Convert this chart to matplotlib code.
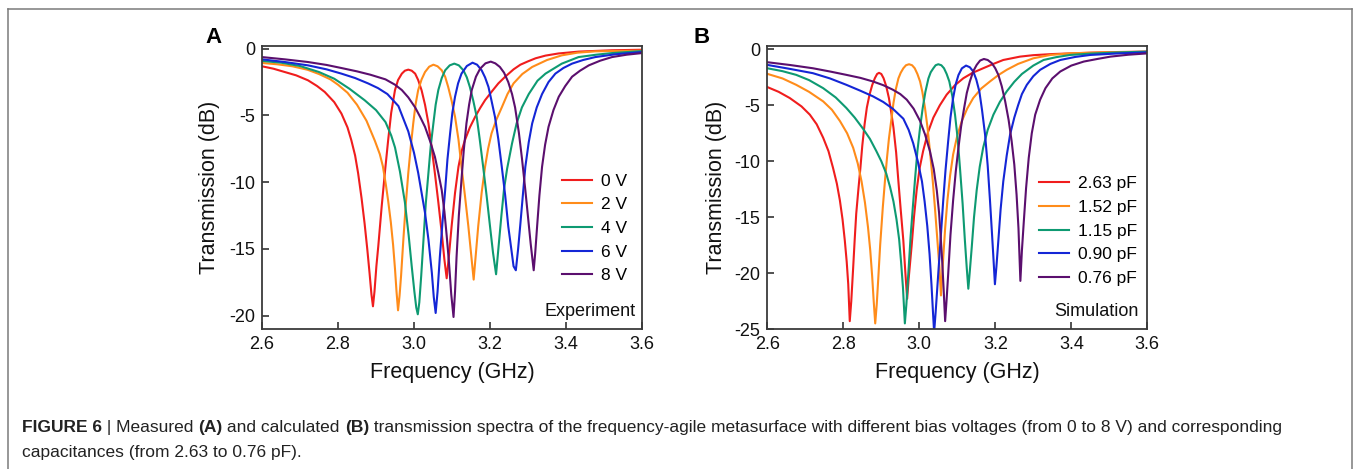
import matplotlib
matplotlib.use("Agg")
import matplotlib.pyplot as plt
from matplotlib.lines import Line2D
from matplotlib.ticker import FormatStrFormatter

plt.rcParams['font.family'] = ['Liberation Sans', 'DejaVu Sans']
plt.rcParams['axes.unicode_minus'] = False

# ---- panel A: measured, bias voltage ----
a_labels = ["0 V", "2 V", "4 V", "6 V", "8 V"]

a0_f = [2.600, 2.630, 2.660, 2.690, 2.721, 2.745, 2.765, 2.790, 2.809, 2.825, 2.835, 2.845, 2.853,
        2.862, 2.870, 2.877, 2.883, 2.888, 2.892, 2.896, 2.901, 2.906, 2.915, 2.924, 2.932, 2.940,
        2.950, 2.958, 2.968, 2.976, 2.985, 2.994, 3.003, 3.011, 3.020, 3.029, 3.038, 3.046, 3.055,
        3.064, 3.073, 3.080, 3.086, 3.092, 3.099, 3.108, 3.117, 3.125, 3.134, 3.147, 3.161, 3.174,
        3.187, 3.205, 3.222, 3.240, 3.262, 3.280, 3.300, 3.320, 3.346, 3.380, 3.433, 3.520, 3.600]
a0_db = [-1.32, -1.5, -1.75, -2.0, -2.37, -2.8, -3.24, -4.0, -4.86, -5.9, -6.85, -8.0, -9.34,
         -11.2, -13.1, -15.0, -16.8, -18.4, -19.3, -18.2, -16.3, -14.8, -11.8, -9.1, -6.85, -4.8,
         -3.1, -2.35, -1.87, -1.65, -1.57, -1.65, -1.87, -2.35, -3.12, -4.2, -5.6, -7.3, -9.34,
         -11.5, -13.8, -15.8, -17.2, -15.5, -13.3, -10.8, -8.85, -7.7, -6.85, -5.9, -5.1, -4.45,
         -3.86, -3.2, -2.6, -2.1, -1.55, -1.2, -0.95, -0.72, -0.52, -0.36, -0.22, -0.12, -0.08]

a2_f = [2.600, 2.640, 2.680, 2.720, 2.750, 2.780, 2.800, 2.825, 2.850, 2.875, 2.897, 2.910, 2.918,
        2.926, 2.932, 2.939, 2.945, 2.950, 2.954, 2.958, 2.962, 2.966, 2.972, 2.978, 2.985, 2.992,
        2.998, 3.004, 3.011, 3.020, 3.029, 3.040, 3.051, 3.062, 3.073, 3.082, 3.090, 3.099, 3.108,
        3.117, 3.125, 3.134, 3.143, 3.150, 3.157, 3.163, 3.169, 3.178, 3.187, 3.195, 3.204, 3.217,
        3.231, 3.246, 3.262, 3.285, 3.311, 3.350, 3.389, 3.430, 3.477, 3.540, 3.600]
a2_db = [-1.07, -1.17, -1.32, -1.58, -1.9, -2.3, -2.7, -3.3, -4.2, -5.4, -6.9, -7.9, -8.8,
         -10.2, -11.4, -13.0, -14.7, -16.5, -18.2, -19.6, -18.5, -17.0, -14.3, -11.8, -9.3, -7.2,
         -5.6, -4.2, -3.1, -2.3, -1.75, -1.35, -1.2, -1.32, -1.62, -2.1, -2.87, -3.9, -5.1,
         -6.8, -8.85, -11.0, -13.3, -15.3, -17.3, -15.3, -13.3, -10.8, -8.85, -7.5, -6.35, -5.3,
         -4.4, -3.4, -2.6, -1.9, -1.37, -0.85, -0.5, -0.3, -0.2, -0.17, -0.15]

a4_f = [2.600, 2.650, 2.700, 2.750, 2.790, 2.830, 2.870, 2.900, 2.925, 2.940, 2.950, 2.963, 2.976,
        2.986, 2.994, 3.001, 3.006, 3.010, 3.014, 3.019, 3.025, 3.031, 3.038, 3.044, 3.051, 3.057,
        3.064, 3.073, 3.082, 3.094, 3.106, 3.118, 3.130, 3.139, 3.147, 3.156, 3.165, 3.173, 3.182,
        3.191, 3.200, 3.208, 3.216, 3.222, 3.230, 3.237, 3.245, 3.258, 3.270, 3.284, 3.302, 3.325,
        3.346, 3.389, 3.433, 3.480, 3.521, 3.600]
a4_db = [-0.92, -1.05, -1.3, -1.75, -2.25, -3.0, -3.86, -4.6, -5.5, -6.5, -7.4, -9.2, -11.5,
         -14.0, -16.3, -18.2, -19.4, -19.9, -19.0, -17.0, -14.3, -11.6, -9.3, -7.3, -5.6, -4.2,
         -3.1, -2.2, -1.62, -1.25, -1.12, -1.25, -1.62, -2.15, -2.87, -3.9, -5.1, -6.8, -8.85,
         -11.0, -13.3, -15.3, -16.9, -15.0, -12.5, -10.5, -9.0, -7.1, -5.6, -4.4, -3.4, -2.4,
         -1.87, -1.12, -0.63, -0.45, -0.33, -0.18]

a6_f = [2.600, 2.660, 2.721, 2.770, 2.809, 2.845, 2.879, 2.905, 2.930, 2.959, 2.985, 3.000, 3.011,
        3.020, 3.029, 3.038, 3.047, 3.052, 3.057, 3.062, 3.068, 3.075, 3.082, 3.088, 3.095, 3.101,
        3.108, 3.116, 3.125, 3.139, 3.154, 3.166, 3.178, 3.187, 3.196, 3.204, 3.213, 3.222, 3.231,
        3.240, 3.248, 3.256, 3.262, 3.268, 3.274, 3.280, 3.287, 3.293, 3.302, 3.311, 3.323, 3.337,
        3.354, 3.372, 3.393, 3.416, 3.445, 3.477, 3.530, 3.600]
a6_db = [-0.8, -1.0, -1.25, -1.55, -1.87, -2.2, -2.6, -2.95, -3.4, -4.3, -6.2, -7.8, -9.3,
         -10.8, -12.3, -14.3, -16.8, -18.6, -19.8, -18.2, -15.6, -13.0, -10.6, -8.3, -6.35, -4.8,
         -3.6, -2.6, -1.87, -1.3, -1.05, -1.2, -1.62, -2.15, -2.87, -3.9, -5.1, -6.8, -8.85,
         -11.0, -13.3, -15.0, -16.3, -16.6, -15.0, -13.1, -10.8, -8.85, -7.0, -5.6, -4.4, -3.4,
         -2.5, -1.87, -1.45, -1.12, -0.85, -0.63, -0.42, -0.25]

a8_f = [2.600, 2.660, 2.721, 2.770, 2.809, 2.850, 2.885, 2.925, 2.950, 2.968, 2.985, 3.003, 3.016,
        3.029, 3.042, 3.055, 3.064, 3.073, 3.080, 3.086, 3.092, 3.098, 3.104, 3.108, 3.112, 3.118,
        3.125, 3.131, 3.138, 3.145, 3.152, 3.163, 3.174, 3.188, 3.202, 3.214, 3.226, 3.237, 3.248,
        3.258, 3.266, 3.276, 3.284, 3.293, 3.300, 3.307, 3.315, 3.319, 3.324, 3.330, 3.337, 3.345,
        3.354, 3.367, 3.381, 3.398, 3.416, 3.437, 3.460, 3.490, 3.521, 3.560, 3.600]
a8_db = [-0.63, -0.8, -1.0, -1.22, -1.45, -1.7, -1.95, -2.3, -2.7, -3.1, -3.65, -4.4, -5.1,
         -5.86, -6.9, -8.1, -9.3, -10.6, -12.2, -14.0, -16.0, -18.4, -20.1, -18.2, -15.6, -12.5,
         -9.8, -7.6, -5.6, -4.2, -3.1, -2.1, -1.5, -1.1, -0.97, -1.1, -1.37, -1.8, -2.5,
         -3.4, -4.4, -6.3, -8.2, -10.6, -12.6, -14.6, -16.6, -15.3, -13.3, -11.0, -8.85, -7.2,
         -5.86, -4.6, -3.6, -2.8, -2.1, -1.65, -1.25, -0.9, -0.63, -0.45, -0.33]

# ---- panel B: simulated, capacitance ----
b_labels = ["2.63 pF", "1.52 pF", "1.15 pF", "0.90 pF", "0.76 pF"]

b263_f = [2.600, 2.630, 2.659, 2.690, 2.712, 2.730, 2.747, 2.761, 2.773, 2.783, 2.791, 2.798, 2.804,
          2.809, 2.813, 2.817, 2.821, 2.826, 2.830, 2.834, 2.840, 2.845, 2.850, 2.856, 2.862, 2.869,
          2.876, 2.883, 2.889, 2.894, 2.900, 2.906, 2.913, 2.920, 2.926, 2.932, 2.939, 2.945, 2.951,
          2.958, 2.963, 2.968, 2.972, 2.976, 2.980, 2.986, 2.993, 3.001, 3.010, 3.023, 3.037, 3.054,
          3.072, 3.094, 3.116, 3.140, 3.168, 3.195, 3.221, 3.265, 3.300, 3.350, 3.450, 3.520, 3.600]
b263_db = [-3.37, -3.8, -4.35, -5.1, -5.84, -6.7, -7.9, -9.1, -10.6, -12.0, -13.5, -15.2, -17.1,
           -19.0, -21.0, -24.3, -22.5, -19.5, -17.0, -14.7, -12.4, -10.6, -8.6, -6.7, -5.2, -4.05,
           -3.2, -2.58, -2.2, -2.1, -2.2, -2.58, -3.3, -4.35, -5.6, -7.0, -9.2, -11.8, -14.3,
           -17.1, -19.8, -22.3, -20.5, -19.0, -17.5, -15.0, -12.6, -10.6, -9.1, -7.4, -6.1, -5.0,
           -4.05, -3.2, -2.58, -2.1, -1.69, -1.3, -0.95, -0.65, -0.52, -0.42, -0.3, -0.24, -0.2]

b152_f = [2.600, 2.640, 2.676, 2.710, 2.747, 2.770, 2.791, 2.810, 2.826, 2.838, 2.848, 2.857, 2.865,
          2.871, 2.876, 2.880, 2.884, 2.888, 2.892, 2.897, 2.904, 2.910, 2.915, 2.920, 2.926, 2.932,
          2.938, 2.945, 2.951, 2.958, 2.965, 2.973, 2.981, 2.988, 2.995, 3.002, 3.008, 3.015, 3.022,
          3.028, 3.035, 3.041, 3.047, 3.053, 3.057, 3.060, 3.063, 3.068, 3.074, 3.081, 3.089, 3.100,
          3.112, 3.126, 3.142, 3.163, 3.186, 3.208, 3.230, 3.260, 3.300, 3.345, 3.400, 3.480, 3.600]
b152_db = [-2.19, -2.6, -3.17, -3.8, -4.65, -5.4, -6.4, -7.5, -8.8, -10.2, -11.8, -13.7, -15.9,
           -18.0, -20.3, -22.5, -24.5, -22.8, -20.5, -17.5, -14.1, -11.6, -9.7, -8.0, -6.4, -4.8,
           -3.6, -2.6, -2.1, -1.69, -1.42, -1.33, -1.42, -1.69, -2.2, -2.87, -3.8, -5.24, -7.1,
           -9.1, -11.6, -14.1, -16.8, -19.5, -22.0, -20.3, -18.6, -16.0, -13.5, -11.3, -9.4, -7.7,
           -6.4, -5.3, -4.35, -3.5, -2.87, -2.3, -1.83, -1.3, -0.8, -0.5, -0.35, -0.27, -0.22]

b115_f = [2.600, 2.640, 2.676, 2.710, 2.747, 2.780, 2.808, 2.830, 2.852, 2.870, 2.887, 2.900, 2.913,
          2.923, 2.932, 2.940, 2.947, 2.952, 2.957, 2.962, 2.966, 2.971, 2.977, 2.983, 2.989, 2.995,
          3.002, 3.009, 3.016, 3.024, 3.030, 3.037, 3.043, 3.050, 3.058, 3.065, 3.072, 3.079, 3.087,
          3.094, 3.101, 3.107, 3.114, 3.120, 3.125, 3.129, 3.133, 3.138, 3.144, 3.151, 3.159, 3.168,
          3.180, 3.195, 3.212, 3.230, 3.250, 3.270, 3.300, 3.327, 3.360, 3.397, 3.450, 3.520, 3.600]
b115_db = [-1.69, -1.95, -2.28, -2.75, -3.47, -4.3, -5.24, -6.1, -7.1, -8.0, -9.1, -10.0, -11.1,
           -12.3, -13.6, -15.2, -17.0, -19.0, -21.3, -24.5, -22.8, -20.1, -16.8, -14.1, -11.5, -9.1,
           -7.0, -5.24, -3.8, -2.6, -2.05, -1.69, -1.42, -1.33, -1.42, -1.69, -2.2, -2.87, -4.2,
           -5.84, -8.0, -10.6, -13.8, -17.1, -19.6, -21.4, -19.8, -17.7, -15.0, -12.6, -10.5, -8.8,
           -7.2, -5.84, -4.7, -3.76, -2.9, -2.2, -1.45, -0.95, -0.7, -0.5, -0.38, -0.28, -0.2]

b090_f = [2.600, 2.660, 2.720, 2.765, 2.808, 2.845, 2.878, 2.905, 2.930, 2.958, 2.972, 2.984, 2.996,
          3.007, 3.014, 3.021, 3.027, 3.032, 3.036, 3.039, 3.043, 3.047, 3.052, 3.057, 3.063, 3.069,
          3.076, 3.082, 3.089, 3.096, 3.103, 3.112, 3.123, 3.133, 3.142, 3.150, 3.158, 3.165, 3.173,
          3.180, 3.186, 3.191, 3.195, 3.199, 3.203, 3.208, 3.214, 3.221, 3.230, 3.239, 3.250, 3.260,
          3.270, 3.283, 3.300, 3.318, 3.345, 3.371, 3.410, 3.450, 3.520, 3.600]
b090_db = [-1.39, -1.75, -2.13, -2.6, -3.17, -3.7, -4.2, -4.7, -5.3, -6.2, -7.2, -8.4, -10.0,
           -11.8, -13.6, -15.8, -18.3, -21.0, -23.5, -25.3, -23.5, -21.5, -19.0, -16.5, -13.5, -10.8,
           -8.2, -6.1, -4.35, -3.1, -2.3, -1.7, -1.45, -1.6, -1.98, -2.7, -3.76, -5.4, -7.6,
           -10.4, -13.5, -16.3, -18.6, -21.0, -19.4, -17.1, -14.3, -11.8, -9.5, -7.6, -6.1, -5.0,
           -4.0, -3.17, -2.4, -1.83, -1.3, -0.95, -0.68, -0.5, -0.37, -0.27]

b076_f = [2.600, 2.660, 2.720, 2.765, 2.808, 2.845, 2.878, 2.905, 2.930, 2.950, 2.967, 2.985, 3.002,
          3.015, 3.028, 3.038, 3.046, 3.052, 3.056, 3.060, 3.064, 3.068, 3.072, 3.076, 3.082, 3.089,
          3.096, 3.103, 3.110, 3.118, 3.125, 3.133, 3.142, 3.151, 3.160, 3.170, 3.180, 3.191, 3.200,
          3.208, 3.217, 3.226, 3.235, 3.243, 3.250, 3.256, 3.261, 3.266, 3.270, 3.275, 3.281, 3.288,
          3.296, 3.305, 3.318, 3.332, 3.350, 3.371, 3.400, 3.433, 3.470, 3.503, 3.550, 3.600]
b076_db = [-1.15, -1.4, -1.69, -1.98, -2.28, -2.55, -2.87, -3.2, -3.6, -4.0, -4.5, -5.3, -6.4,
           -7.6, -9.1, -10.7, -12.6, -14.6, -16.6, -18.8, -21.4, -24.3, -22.3, -20.1, -16.6, -13.5,
           -10.9, -8.8, -6.9, -5.24, -3.9, -2.87, -1.95, -1.39, -1.0, -0.86, -0.95, -1.24, -1.7,
           -2.28, -3.3, -4.65, -6.3, -8.2, -10.3, -13.0, -16.0, -20.7, -18.0, -15.4, -12.4, -9.7,
           -7.5, -5.84, -4.5, -3.47, -2.6, -1.98, -1.45, -1.09, -0.85, -0.65, -0.48, -0.36]

x_ticks = [2.6, 2.8, 3.0, 3.2, 3.4, 3.6]
colors = ["#f01d1d", "#ff8c1a", "#0e9a72", "#1426d6", "#5b0f6e"]

W, H = 1356, 469
fig = plt.figure(figsize=(W / 100, H / 100), dpi=100)

axA = fig.add_axes([262 / W, 1 - 329 / H, 380 / W, 283 / H])
axB = fig.add_axes([767.3 / W, 1 - 329 / H, 380 / W, 283 / H])


def style(ax, ylim, yticks):
    ax.set_xlim(2.6, 3.6)
    ax.set_ylim(*ylim)
    ax.set_xticks(x_ticks)
    ax.set_yticks(yticks)
    ax.xaxis.set_major_formatter(FormatStrFormatter('%.1f'))
    ax.yaxis.set_major_formatter(FormatStrFormatter('%d'))
    ax.tick_params(direction='in', length=5, width=1.2, labelsize=13, pad=5,
                   color='#333333', labelcolor='#111111')
    for s in ax.spines.values():
        s.set_linewidth(1.3)
        s.set_color('#3a3a3a')
    ax.set_xlabel("Frequency (GHz)", fontsize=15.5, color='#111111')
    ax.set_ylabel("Transmission (dB)", fontsize=15.5, color='#111111')


legend_kw = dict(loc='center left', frameon=False, fontsize=12.5, handlelength=1.72,
                 handletextpad=0.52, labelspacing=0.49, borderpad=0, borderaxespad=0)

a_series = [(a0_f, a0_db), (a2_f, a2_db), (a4_f, a4_db), (a6_f, a6_db), (a8_f, a8_db)]
for (f, db), c, lab in zip(a_series, colors, a_labels):
    axA.plot(f, db, color=c, lw=1.5, label=lab)
style(axA, (-21.0, 0.2), [0, -5, -10, -15, -20])
axA.xaxis.set_label_coords(0.5, -0.115)
axA.yaxis.set_label_coords(-0.11, 0.5)
axA.legend(bbox_to_anchor=(0.789, 0.355), **legend_kw)
axA.text(0.982, 0.061, "Experiment", transform=axA.transAxes, ha='right', va='center',
         fontsize=13, color='#111111')

b_series = [(b263_f, b263_db), (b152_f, b152_db), (b115_f, b115_db), (b090_f, b090_db), (b076_f, b076_db)]
for (f, db), c, lab in zip(b_series, colors, b_labels):
    axB.plot(f, db, color=c, lw=1.5, label=lab)
style(axB, (-25.0, 0.3), [0, -5, -10, -15, -20, -25])
axB.xaxis.set_label_coords(0.5, -0.115)
axB.yaxis.set_label_coords(-0.107, 0.5)
axB.legend(bbox_to_anchor=(0.716, 0.346), **legend_kw)
axB.text(0.976, 0.061, "Simulation", transform=axB.transAxes, ha='right', va='center',
         fontsize=13, color='#111111')

fig.text(214 / W, 1 - 37.5 / H, "A", fontsize=16, fontweight='bold', ha='center', va='center')
fig.text(702 / W, 1 - 37.5 / H, "B", fontsize=16, fontweight='bold', ha='center', va='center')

# frame around the figure (open at the bottom)
frame_kw = dict(transform=fig.transFigure, color='#7a7a7a', lw=1.1)
fig.add_artist(Line2D([8 / W, 1352 / W], [1 - 9 / H, 1 - 9 / H], **frame_kw))
fig.add_artist(Line2D([8 / W, 8 / W], [0, 1 - 9 / H], **frame_kw))
fig.add_artist(Line2D([1352 / W, 1352 / W], [0, 1 - 9 / H], **frame_kw))

# caption with mixed weights
cap_family = ['Liberation Sans Narrow', 'Liberation Sans', 'DejaVu Sans']
line1 = [("FIGURE 6", 'bold'), (" | Measured ", 'normal'), ("(A)", 'bold'),
         (" and calculated ", 'normal'), ("(B)", 'bold'),
         (" transmission spectra of the frequency-agile metasurface with different bias voltages "
          "(from 0 to 8 V) and corresponding", 'normal')]
line2 = [("capacitances (from 2.63 to 0.76 pF).", 'normal')]

renderer = fig.canvas.get_renderer()
for pieces, yc in [(line1, 427), (line2, 452)]:
    x = 22
    for txt, wt in pieces:
        t = fig.text(x / W, 1 - yc / H, txt, fontsize=12.5, fontweight=wt, family=cap_family,
                     ha='left', va='center', color='#222222')
        bb = t.get_window_extent(renderer)
        x = bb.x1

fig.savefig("out.png", dpi=100)
